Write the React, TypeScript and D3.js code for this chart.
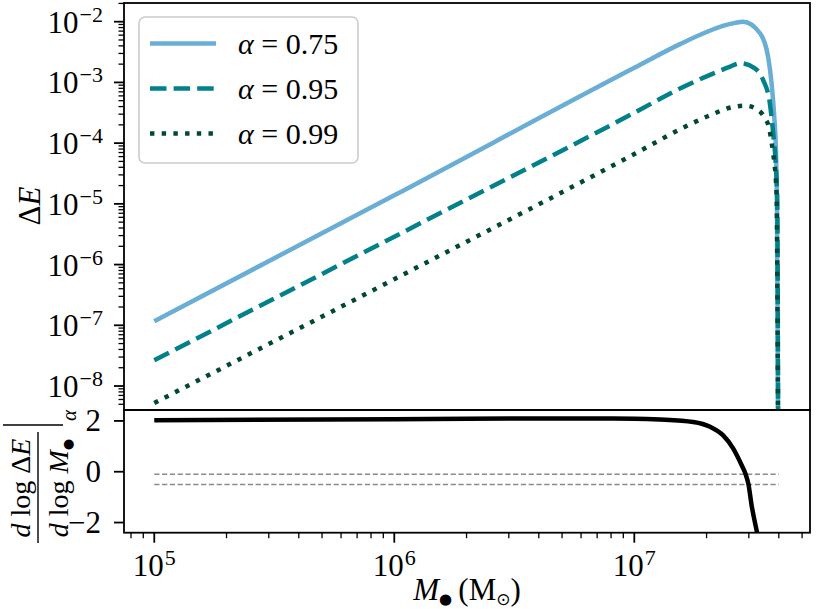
import React from "react";
import * as d3 from "d3";

// ---- data ----
const ALPHAS = ["0.75", "0.95", "0.99"];

const M_A075 = [1e5, 1e6, 1e7, 1.55e7, 2.0e7, 2.34e7, 2.63e7, 2.84e7, 3.34e7, 3.61e7, 3.73e7, 3.83e7, 3.89e7, 3.93e7, 3.95e7, 3.98e7];
const DE_A075 = [1.17e-7, 1.38e-5, 1.74e-3, 4.27e-3, 6.76e-3, 8.51e-3, 9.55e-3, 1.0e-2, 6.46e-3, 2.63e-3, 9.77e-4, 2.69e-4, 7.76e-5, 8.9e-6, 2.5e-7, 3e-10];

const M_A095 = [1e5, 1e6, 1e7, 1.55e7, 2.14e7, 2.51e7, 2.75e7, 3.18e7, 3.44e7, 3.67e7, 3.79e7, 3.89e7, 3.94e7, 3.98e7];
const DE_A095 = [2.65e-8, 2.88e-6, 3.16e-4, 7.94e-4, 1.41e-3, 1.82e-3, 2.07e-3, 1.7e-3, 1.1e-3, 4.57e-4, 1.45e-4, 4.07e-5, 1.15e-5, 3e-10];

const M_A099 = [1e5, 1e6, 1e7, 1.65e7, 2.07e7, 2.54e7, 2.89e7, 3.24e7, 3.5e7, 3.65e7, 3.73e7, 3.79e7, 3.85e7, 3.89e7, 3.92e7, 3.94e7, 3.98e7];
const DE_A099 = [5.25e-9, 5.75e-7, 6.61e-5, 1.91e-4, 2.88e-4, 3.89e-4, 4.14e-4, 3.63e-4, 2.57e-4, 1.74e-4, 1.05e-4, 6.76e-5, 4.07e-5, 2.45e-5, 1.15e-5, 1e-6, 3e-10];

const SLOPE_M = [1e5, 1e6, 4.9e6, 1.0e7, 1.28e7, 1.76e7, 2.07e7, 2.34e7, 2.58e7, 2.8e7, 2.91e7, 2.99e7, 3.08e7, 3.24e7, 3.31e7];
const SLOPE_VAL = [2.03, 2.07, 2.1, 2.09, 2.06, 1.96, 1.77, 1.44, 0.92, 0.26, -0.1, -0.5, -1.31, -2.36, -2.8];

const REF_LEVELS = [-0.1, -0.5];
const REF_M = [1e5, 4e7];

const X_MAJOR_EXP = [5, 6, 7];
const Y_TOP_MAJOR_EXP = [-8, -7, -6, -5, -4, -3, -2];
const Y_BOT_TICKS = [-2, 0, 2];

const COLORS = ["#6aaed6", "#02818a", "#014636"];
const DASHES = ["none", "16.5,7.1", "4.4,7.3"];

const FONT = "'Liberation Serif', 'DejaVu Serif', serif";

function logTicks(a: number, b: number) {
  const out: { v: number; major: boolean; e: number }[] = [];
  for (let e = Math.floor(Math.log10(a)); e <= Math.ceil(Math.log10(b)); e++) {
    for (let k = 1; k <= 9; k++) {
      const v = k * Math.pow(10, e);
      if (v >= a * 0.99999 && v <= b * 1.00001) out.push({ v, major: k === 1, e });
    }
  }
  return out;
}

export default function App() {
  const L = 124, R = 810, T = 3, MID = 410, B = 532.7;
  const x = d3.scaleLog().domain([7.48e4, 5.395e7]).range([L, R]);
  const yTop = d3.scaleLog().domain([4.027e-9, 2.032e-2]).range([MID, T]);
  const yBot = d3.scaleLinear().domain([-2.4, 2.43]).range([B, MID]);

  const series = [
    { m: M_A075, e: DE_A075 },
    { m: M_A095, e: DE_A095 },
    { m: M_A099, e: DE_A099 },
  ];

  const lineTop = d3
    .line<[number, number]>()
    .x((d) => x(d[0]))
    .y((d) => yTop(d[1]))
    .curve(d3.curveMonotoneX);
  const lineBot = d3
    .line<[number, number]>()
    .x((d) => x(d[0]))
    .y((d) => yBot(d[1]))
    .curve(d3.curveMonotoneX);

  const xt = logTicks(x.domain()[0], x.domain()[1]);
  const yt = logTicks(yTop.domain()[0], yTop.domain()[1]);
  const sup = (e: number) => (e < 0 ? "\u2212" + Math.abs(e) : String(e));

  const legendY = [43.5, 88.5, 133.5];

  return (
    <svg
      width={830}
      height={609}
      style={{ position: "absolute", left: 0, top: 0, display: "block", background: "#fff" }}
      fontFamily={FONT}
    >
      <defs>
        <clipPath id="clipTop">
          <rect x={L} y={T} width={R - L} height={MID - T} />
        </clipPath>
        <clipPath id="clipBot">
          <rect x={L} y={MID} width={R - L} height={B - MID} />
        </clipPath>
      </defs>

      {/* top panel curves */}
      <g clipPath="url(#clipTop)">
        {series.map((s, i) => (
          <path
            key={i}
            d={lineTop(s.m.map((m, j) => [m, s.e[j]] as [number, number])) || ""}
            fill="none"
            stroke={COLORS[i]}
            strokeWidth={4.5}
            strokeDasharray={DASHES[i]}
          />
        ))}
      </g>

      {/* bottom panel */}
      <g clipPath="url(#clipBot)">
        {REF_LEVELS.map((v, i) => (
          <line
            key={i}
            x1={x(REF_M[0])}
            x2={x(REF_M[1])}
            y1={yBot(v)}
            y2={yBot(v)}
            stroke="#8a8a8a"
            strokeWidth={1.4}
            strokeDasharray="5.2,2.6"
          />
        ))}
        <path
          d={lineBot(SLOPE_M.map((m, j) => [m, SLOPE_VAL[j]] as [number, number])) || ""}
          fill="none"
          stroke="#000"
          strokeWidth={4.5}
        />
      </g>

      {/* frames */}
      <rect x={L} y={T} width={R - L} height={MID - T} fill="none" stroke="#000" strokeWidth={1.8} />
      <rect x={L} y={MID} width={R - L} height={B - MID} fill="none" stroke="#000" strokeWidth={1.8} />

      {/* top y ticks */}
      {yt.map((t, i) => (
        <line
          key={i}
          x1={L - (t.major ? 10 : 5.5)}
          x2={L}
          y1={yTop(t.v)}
          y2={yTop(t.v)}
          stroke="#000"
          strokeWidth={t.major ? 1.8 : 1.3}
        />
      ))}
      {Y_TOP_MAJOR_EXP.map((e) => (
        <text key={e} x={103} y={yTop(Math.pow(10, e)) + 11} textAnchor="end" fontSize={31}>
          <tspan>10</tspan>
          <tspan dx={1} dy={-11} fontSize={22}>
            {sup(e)}
          </tspan>
        </text>
      ))}

      {/* bottom y ticks */}
      {Y_BOT_TICKS.map((v) => (
        <g key={v}>
          <line x1={L - 10} x2={L} y1={yBot(v)} y2={yBot(v)} stroke="#000" strokeWidth={1.8} />
          <text x={101} y={yBot(v) + 10.5} textAnchor="end" fontSize={31}>
            {v < 0 ? "\u2212" + Math.abs(v) : String(v)}
          </text>
        </g>
      ))}

      {/* x ticks */}
      {xt.map((t, i) => (
        <line
          key={i}
          x1={x(t.v)}
          x2={x(t.v)}
          y1={B}
          y2={B + (t.major ? 10 : 5.5)}
          stroke="#000"
          strokeWidth={t.major ? 1.8 : 1.3}
        />
      ))}
      {X_MAJOR_EXP.map((e) => (
        <text key={e} x={x(Math.pow(10, e))} y={576} textAnchor="middle" fontSize={31}>
          <tspan>10</tspan>
          <tspan dx={1} dy={-11} fontSize={22}>
            {sup(e)}
          </tspan>
        </text>
      ))}

      {/* x label */}
      <text x={467} y={600} textAnchor="middle" fontSize={31}>
        <tspan fontStyle="italic">M</tspan>
        <tspan dy={4} fontSize={15} fontFamily="'DejaVu Sans', sans-serif">
          {"\u25CF"}
        </tspan>
        <tspan dy={-4}>{"\u2009(M"}</tspan>
        <tspan dy={5} fontSize={17} fontFamily="'DejaVu Sans', sans-serif">
          {"\u2299"}
        </tspan>
        <tspan dy={-5}>)</tspan>
      </text>

      {/* top y label */}
      <text transform="translate(40,206) rotate(-90)" textAnchor="middle" fontSize={31}>
        <tspan>{"\u0394"}</tspan>
        <tspan fontStyle="italic">E</tspan>
      </text>

      {/* bottom y label */}
      <g transform="translate(40,471) rotate(-90)" fontSize={28}>
        <text x={-17} y={-10} textAnchor="middle">
          <tspan fontStyle="italic">d</tspan>
          <tspan> log </tspan>
          <tspan>{"\u0394"}</tspan>
          <tspan fontStyle="italic">E</tspan>
        </text>
        <line x1={-72} x2={39} y1={-2} y2={-2} stroke="#000" strokeWidth={1.4} />
        <text x={-17} y={28} textAnchor="middle">
          <tspan fontStyle="italic">d</tspan>
          <tspan> log </tspan>
          <tspan fontStyle="italic">M</tspan>
          <tspan dy={4} fontSize={13} fontFamily="'DejaVu Sans', sans-serif">
            {"\u25CF"}
          </tspan>
        </text>
        <line x1={46} x2={46} y1={-37} y2={23} stroke="#000" strokeWidth={1.4} />
        <text x={50} y={36} fontSize={21} fontStyle="italic">
          {"\u03b1"}
        </text>
      </g>

      {/* legend */}
      <rect x={139} y={17} width={219} height={146} rx={6} fill="#fff" fillOpacity={0.8} stroke="#cccccc" strokeWidth={1.6} />
      {ALPHAS.map((a, i) => (
        <g key={a}>
          <line
            x1={150}
            x2={216}
            y1={legendY[i]}
            y2={legendY[i]}
            stroke={COLORS[i]}
            strokeWidth={4.5}
            strokeDasharray={DASHES[i]}
          />
          <text x={238} y={legendY[i] + 10.5} fontSize={30}>
            <tspan fontStyle="italic">{"\u03b1"}</tspan>
            <tspan>{" = " + a}</tspan>
          </text>
        </g>
      ))}
    </svg>
  );
}
